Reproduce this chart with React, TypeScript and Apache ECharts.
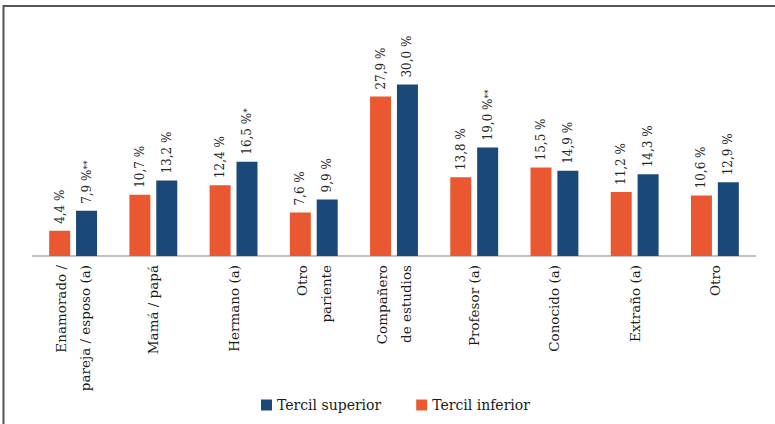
import React, { useEffect, useRef } from "react";
import * as echarts from "echarts";

const categories = [
  "Enamorado /\npareja / esposo (a)",
  "Mamá / papá",
  "Hermano (a)",
  "Otro\npariente",
  "Compañero\nde estudios",
  "Profesor (a)",
  "Conocido (a)",
  "Extraño (a)",
  "Otro",
];
const tercilInferior = [4.4, 10.7, 12.4, 7.6, 27.9, 13.8, 15.5, 11.2, 10.6];
const tercilSuperior = [7.9, 13.2, 16.5, 9.9, 30.0, 19.0, 14.9, 14.3, 12.9];
const marksInferior = ["", "", "", "", "", "", "", "", ""];
const marksSuperior = ["**", "", "*", "", "", "**", "", "", ""];

const FONT = "DejaVu Serif";
const ORANGE = "#EA5831";
const BLUE = "#1A4878";

function fmt(marks: string[]) {
  return (p: any) => {
    const v = Number(p.value).toFixed(1).replace(".", ",") + " %";
    const m = marks[p.dataIndex];
    return m ? `{a|${v}}{s|${m}}` : `{a|${v}}`;
  };
}

const labelCommon = (marks: string[]) => ({
  show: true,
  position: "top",
  rotate: 90,
  align: "left",
  verticalAlign: "middle",
  distance: 7,
  formatter: fmt(marks),
  rich: {
    a: { fontFamily: FONT, fontSize: 12, color: "#262626" },
    s: { fontFamily: FONT, fontSize: 9, color: "#262626" },
  },
});

export default function App() {
  const ref = useRef<HTMLDivElement>(null);
  useEffect(() => {
    if (!ref.current) return;
    const chart = echarts.init(ref.current, undefined, { renderer: "svg" });
    chart.setOption({
      animation: false,
      backgroundColor: "#ffffff",
      textStyle: { fontFamily: FONT },
      graphic: [
        {
          type: "rect",
          shape: { x: 3.5, y: 6, width: 800, height: 440 },
          style: { fill: "none", stroke: "#555555", lineWidth: 2 },
          silent: true,
        },
      ],
      grid: { left: 33, right: 20, top: 56, bottom: 168, containLabel: false },
      legend: {
        data: ["Tercil superior", "Tercil inferior"],
        left: 256,
        top: 393,
        itemWidth: 11,
        itemHeight: 11,
        itemGap: 35,
        icon: "rect",
        textStyle: { fontFamily: FONT, fontSize: 14, color: "#1a1a1a" },
      },
      xAxis: {
        type: "category",
        data: categories,
        axisLine: { lineStyle: { color: "#BFBFBF", width: 2 } },
        axisTick: { show: false },
        axisLabel: {
          rotate: 90,
          margin: 9,
          fontFamily: FONT,
          fontSize: 13.5,
          lineHeight: 24,
          color: "#1a1a1a",
          interval: 0,
        },
      },
      yAxis: {
        type: "value",
        min: 0,
        max: 35,
        show: false,
        splitLine: { show: false },
      },
      series: [
        {
          name: "Tercil inferior",
          type: "bar",
          data: tercilInferior,
          barWidth: 21,
          barGap: "28%",
          itemStyle: { color: ORANGE },
          label: labelCommon(marksInferior),
        },
        {
          name: "Tercil superior",
          type: "bar",
          data: tercilSuperior,
          barWidth: 21,
          barGap: "28%",
          itemStyle: { color: BLUE },
          label: labelCommon(marksSuperior),
        },
      ],
    });
    return () => chart.dispose();
  }, []);
  return (
    <div
      ref={ref}
      style={{ position: "fixed", left: 0, top: 0, width: 775, height: 424 }}
    />
  );
}
